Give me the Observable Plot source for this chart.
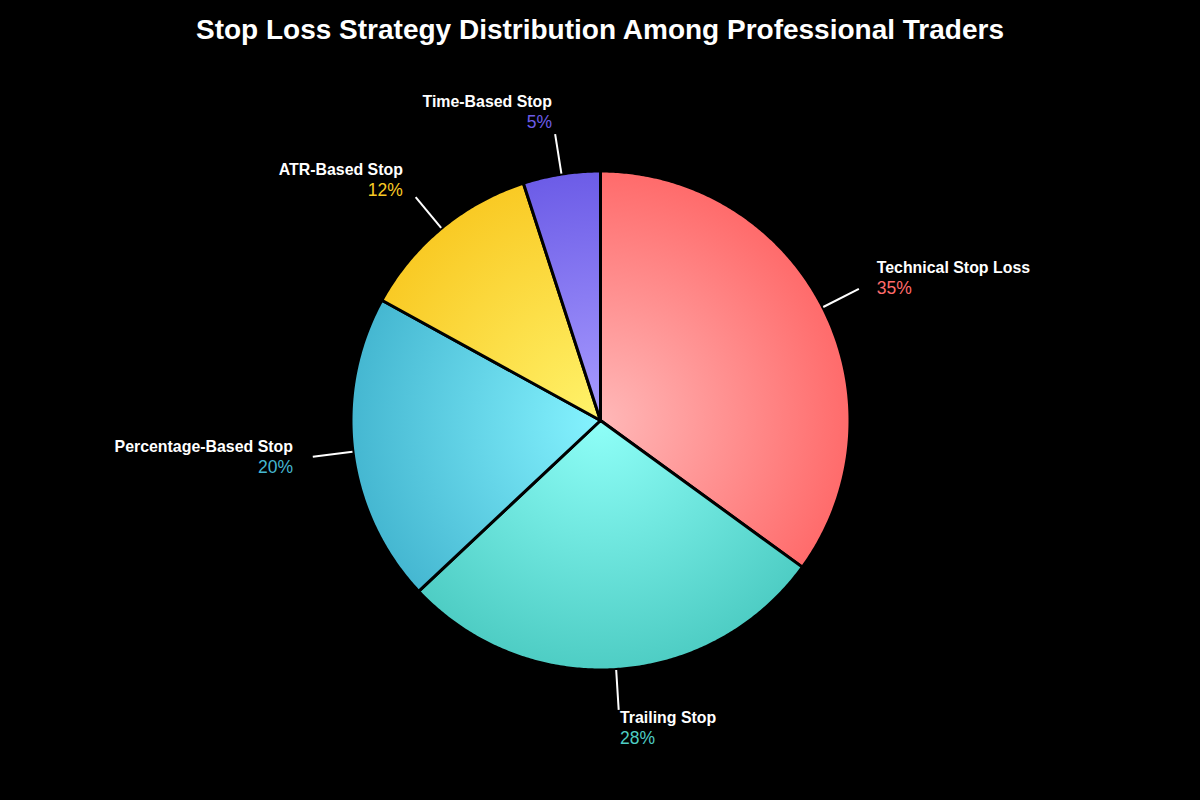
<!DOCTYPE html>
<html>
<head>
<meta charset="utf-8">
<script src="https://cdn.jsdelivr.net/npm/d3@7"></script>
<script src="https://cdn.jsdelivr.net/npm/@observablehq/plot@0.6"></script>
<style>
  body { margin: 0; background: #000; font-family: "Liberation Sans", Arial, Helvetica, sans-serif; }
  #title { width: 1200px; height: 60px; line-height: 60px; text-align: center; color: #fff; font-weight: bold; font-size: 28px; }
</style>
</head>
<body>
<div id="title">Stop Loss Strategy Distribution Among Professional Traders</div>
<div id="chart"></div>
<script>
// Share of professional traders using each stop-loss approach (%)
const strategies = ["Technical Stop Loss", "Trailing Stop", "Percentage-Based Stop", "ATR-Based Stop", "Time-Based Stop"];
const shares = [35, 28, 20, 12, 5];
const baseColors = ["#FF6B6B", "#4ECDC4", "#45B7D1", "#F9CA24", "#6C5CE7"];
const lightColors = ["#FFB8B8", "#8FFFF8", "#85F3FF", "#FFF36B", "#A89CFF"];

const W = 1200, H = 740;
const R = 249.5;        // pie radius in chart units (1 unit = 1px)
const leaderStart = 250, leaderEnd = 290, labelRadius = 310;

const rows = strategies.map((name, i) => ({name, share: shares[i], color: baseColors[i], light: lightColors[i]}));
const arcs = d3.pie().sort(null).value(d => d.share)(rows);

// Outline of each wedge: centre, then points along its outer arc
const wedges = arcs.map(a => {
  const n = Math.max(2, Math.ceil((a.endAngle - a.startAngle) / (Math.PI / 360)));
  const pts = [{x: 0, y: 0}];
  for (let k = 0; k <= n; k++) {
    const t = a.startAngle + (a.endAngle - a.startAngle) * k / n;
    pts.push({x: R * Math.sin(t), y: R * Math.cos(t)});
  }
  return pts;
});

const labels = arcs.map(a => {
  const m = (a.startAngle + a.endAngle) / 2;
  const s = Math.sin(m), c = Math.cos(m);
  return {
    name: a.data.name,
    pct: `${a.data.share}%`,
    color: a.data.color,
    right: s >= 0,
    x1: leaderStart * s, y1: leaderStart * c,
    x2: leaderEnd * s, y2: leaderEnd * c,
    tx: labelRadius * s, ty: labelRadius * c
  };
});

const textMarks = [true, false].flatMap(right => {
  const subset = labels.filter(d => d.right === right);
  const anchor = right ? "start" : "end";
  return [
    Plot.text(subset, {x: "tx", y: "ty", text: "name", textAnchor: anchor, lineAnchor: "bottom", dy: -7,
      fill: "#fff", fontWeight: "bold", fontSize: 15.9}),
    Plot.text(subset, {x: "tx", y: "ty", text: "pct", textAnchor: anchor, lineAnchor: "bottom", dy: 14,
      fill: "color", fontSize: 17.5})
  ];
});

const chart = Plot.plot({
  width: W,
  height: H,
  margin: 0,
  x: {domain: [-W / 2, W / 2], axis: null},
  y: {domain: [-380, 360], axis: null},
  color: {type: "identity"},
  style: {background: "#000", color: "#fff", fontFamily: "'Liberation Sans', Arial, Helvetica, sans-serif"},
  marks: [
    ...wedges.map((pts, i) => Plot.line(pts, {
      x: "x", y: "y", curve: "linear-closed",
      fill: `url(#wedge-grad-${i})`, stroke: "#000", strokeWidth: 3, strokeLinejoin: "round"
    })),
    Plot.link(labels, {x1: "x1", y1: "y1", x2: "x2", y2: "y2", stroke: "#fff", strokeWidth: 2}),
    ...textMarks
  ]
});

// Radial gradients centred on the pie: light at the centre, full colour at the rim
const sx = chart.scale("x"), sy = chart.scale("y");
const cx = sx.apply(0), cy = sy.apply(0), rr = sx.apply(R) - sx.apply(0);
const defs = d3.select(chart).insert("defs", ":first-child");
rows.forEach((d, i) => {
  const g = defs.append("radialGradient")
    .attr("id", `wedge-grad-${i}`)
    .attr("gradientUnits", "userSpaceOnUse")
    .attr("cx", cx).attr("cy", cy).attr("r", rr);
  g.append("stop").attr("offset", "0%").attr("stop-color", d.light);
  g.append("stop").attr("offset", "100%").attr("stop-color", d.color);
});

document.getElementById("chart").appendChild(chart);
</script>
</body>
</html>
